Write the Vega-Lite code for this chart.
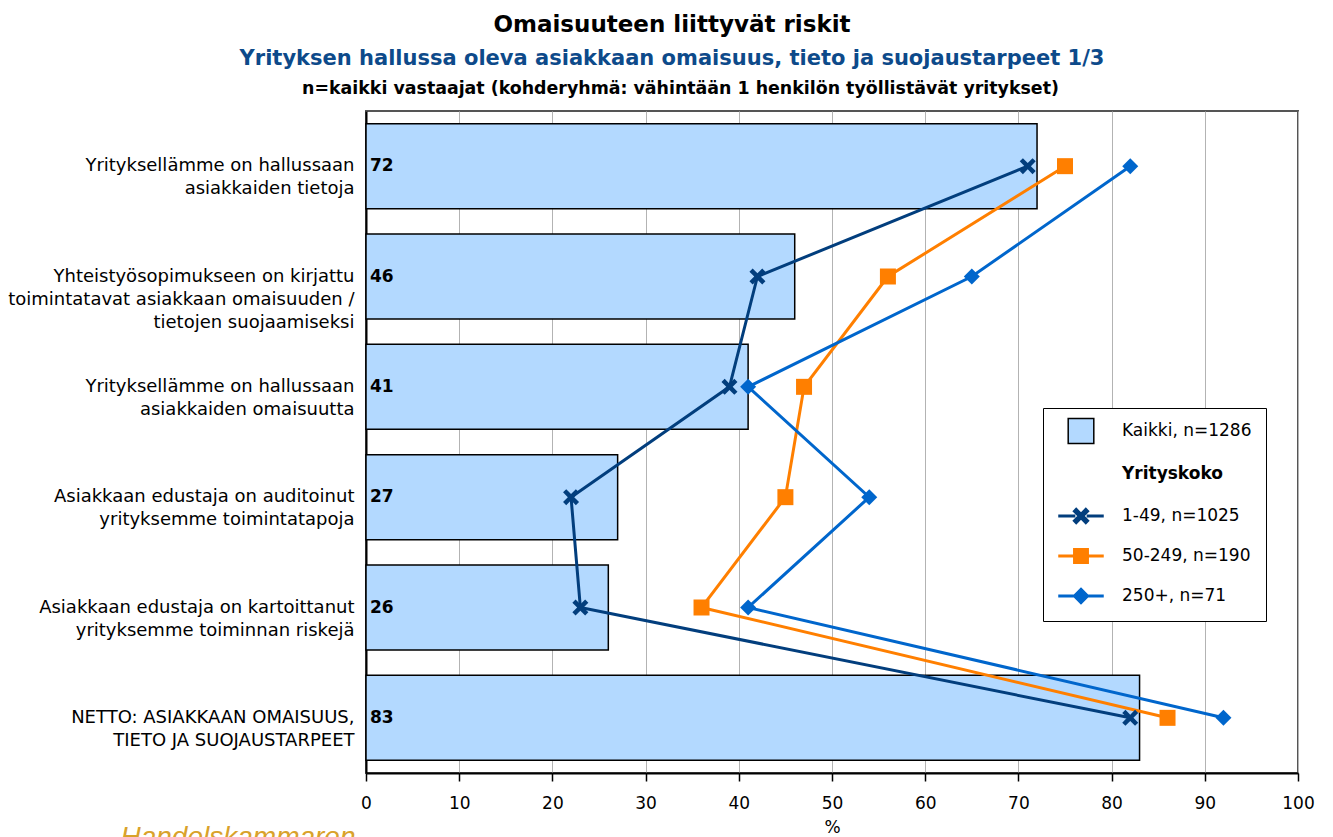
{
  "$schema": "https://vega.github.io/schema/vega-lite/v6.json",
  "width": 932,
  "height": 662,
  "autosize": "none",
  "padding": {"left": 366, "top": 111, "right": 35, "bottom": 64},
  "background": "white",
  "config": {
    "font": "DejaVu Sans",
    "view": {"stroke": "#555555", "strokeWidth": 2},
    "axis": {"labelFont": "DejaVu Sans", "titleFont": "DejaVu Sans"}
  },
  "title": {
    "text": "Omaisuuteen liittyvät riskit",
    "subtitle": "Yrityksen hallussa oleva asiakkaan omaisuus, tieto ja suojaustarpeet 1/3",
    "anchor": "middle",
    "dx": -160,
    "font": "DejaVu Sans",
    "fontSize": 23,
    "fontWeight": "bold",
    "color": "black",
    "subtitleFont": "DejaVu Sans",
    "subtitleFontSize": 21,
    "subtitleFontWeight": "bold",
    "subtitleColor": "#0d4a8a",
    "subtitlePadding": 11,
    "offset": 10
  },
  "data": {
    "values": [
      {"cat": "Yrityksellämme on hallussaan|asiakkaiden tietoja", "series": "Kaikki, n=1286", "value": 72},
      {"cat": "Yhteistyösopimukseen on kirjattu|toimintatavat asiakkaan omaisuuden /|tietojen suojaamiseksi", "series": "Kaikki, n=1286", "value": 46},
      {"cat": "Yrityksellämme on hallussaan|asiakkaiden omaisuutta", "series": "Kaikki, n=1286", "value": 41},
      {"cat": "Asiakkaan edustaja on auditoinut|yrityksemme toimintatapoja", "series": "Kaikki, n=1286", "value": 27},
      {"cat": "Asiakkaan edustaja on kartoittanut|yrityksemme toiminnan riskejä", "series": "Kaikki, n=1286", "value": 26},
      {"cat": "NETTO: ASIAKKAAN OMAISUUS,|TIETO JA SUOJAUSTARPEET", "series": "Kaikki, n=1286", "value": 83},
      {"cat": "Yrityksellämme on hallussaan|asiakkaiden tietoja", "series": "1-49, n=1025", "value": 71},
      {"cat": "Yhteistyösopimukseen on kirjattu|toimintatavat asiakkaan omaisuuden /|tietojen suojaamiseksi", "series": "1-49, n=1025", "value": 42},
      {"cat": "Yrityksellämme on hallussaan|asiakkaiden omaisuutta", "series": "1-49, n=1025", "value": 39},
      {"cat": "Asiakkaan edustaja on auditoinut|yrityksemme toimintatapoja", "series": "1-49, n=1025", "value": 22},
      {"cat": "Asiakkaan edustaja on kartoittanut|yrityksemme toiminnan riskejä", "series": "1-49, n=1025", "value": 23},
      {"cat": "NETTO: ASIAKKAAN OMAISUUS,|TIETO JA SUOJAUSTARPEET", "series": "1-49, n=1025", "value": 82},
      {"cat": "Yrityksellämme on hallussaan|asiakkaiden tietoja", "series": "50-249, n=190", "value": 75},
      {"cat": "Yhteistyösopimukseen on kirjattu|toimintatavat asiakkaan omaisuuden /|tietojen suojaamiseksi", "series": "50-249, n=190", "value": 56},
      {"cat": "Yrityksellämme on hallussaan|asiakkaiden omaisuutta", "series": "50-249, n=190", "value": 47},
      {"cat": "Asiakkaan edustaja on auditoinut|yrityksemme toimintatapoja", "series": "50-249, n=190", "value": 45},
      {"cat": "Asiakkaan edustaja on kartoittanut|yrityksemme toiminnan riskejä", "series": "50-249, n=190", "value": 36},
      {"cat": "NETTO: ASIAKKAAN OMAISUUS,|TIETO JA SUOJAUSTARPEET", "series": "50-249, n=190", "value": 86},
      {"cat": "Yrityksellämme on hallussaan|asiakkaiden tietoja", "series": "250+, n=71", "value": 82},
      {"cat": "Yhteistyösopimukseen on kirjattu|toimintatavat asiakkaan omaisuuden /|tietojen suojaamiseksi", "series": "250+, n=71", "value": 65},
      {"cat": "Yrityksellämme on hallussaan|asiakkaiden omaisuutta", "series": "250+, n=71", "value": 41},
      {"cat": "Asiakkaan edustaja on auditoinut|yrityksemme toimintatapoja", "series": "250+, n=71", "value": 54},
      {"cat": "Asiakkaan edustaja on kartoittanut|yrityksemme toiminnan riskejä", "series": "250+, n=71", "value": 41},
      {"cat": "NETTO: ASIAKKAAN OMAISUUS,|TIETO JA SUOJAUSTARPEET", "series": "250+, n=71", "value": 92}
    ]
  },
  "encoding": {
    "y": {
      "field": "cat",
      "type": "nominal",
      "sort": null,
      "scale": {"paddingInner": 0.23, "paddingOuter": 0.115},
      "axis": {
        "labelExpr": "split(datum.label, '|')",
        "labelFontSize": 18,
        "labelColor": "black",
        "labelLineHeight": 23,
        "labelPadding": 12,
        "labelLimit": 400,
        "ticks": false,
        "domainColor": "black",
        "domainWidth": 2,
        "title": "Handelskammaren",
        "titleAngle": 0,
        "titleAlign": "left",
        "titleBaseline": "top",
        "titleX": -246,
        "titleY": 712,
        "titleFont": "Liberation Sans",
        "titleFontSize": 28,
        "titleFontStyle": "italic",
        "titleFontWeight": "normal",
        "titleColor": "#d9a22b"
      }
    }
  },
  "layer": [
    {
      "transform": [{"filter": "datum.series === 'Kaikki, n=1286'"}],
      "mark": {"type": "bar", "strokeWidth": 1.5},
      "encoding": {
        "x": {
          "field": "value",
          "type": "quantitative",
          "scale": {"domain": [0, 100], "nice": false},
          "axis": {
            "orient": "bottom",
            "values": [0, 10, 20, 30, 40, 50, 60, 70, 80, 90, 100],
            "grid": true,
            "gridColor": "#b3b3b3",
            "gridWidth": 1,
            "domainColor": "black",
            "domainWidth": 2,
            "tickColor": "black",
            "tickSize": 8,
            "tickWidth": 1.5,
            "labelFontSize": 17,
            "labelColor": "black",
            "labelPadding": 14,
            "labelFlush": false,
            "title": "%",
            "titleFontSize": 17,
            "titleFontWeight": "normal",
            "titleColor": "black",
            "titlePadding": 8
          }
        },
        "fill": {
          "field": "series",
          "type": "nominal",
          "scale": {
            "domain": ["Kaikki, n=1286", "Yrityskoko", "1-49, n=1025", "50-249, n=190", "250+, n=71"],
            "range": ["#b3d9ff", "transparent", "#023e7d", "#ff7f00", "#0066cc"]
          },
          "legend": {
            "title": null,
            "orient": "none",
            "legendX": 677,
            "legendY": 297,
            "fillColor": "white",
            "strokeColor": "black",
            "padding": 14,
            "symbolSize": 256,
            "symbolOffset": 15,
            "labelOffset": 32,
            "labelFontSize": 17,
            "labelFont": "DejaVu Sans",
            "labelColor": "black",
            "labelLimit": 300,
            "labelExpr": "datum.label + '\u00a0\u00a0'",
            "rowPadding": 18,
            "symbolOpacity": 1,
            "symbolStrokeWidth": 1.5,
            "symbolType": {"expr": "datum.value === 'Kaikki, n=1286' ? 'M-1.6,-1.55H1.6V1.55H-1.6Z' : datum.value === 'Yrityskoko' ? 'M-0.3,-0.3H0.3V1.25H-0.3Z' : datum.value === '1-49, n=1025' ? 'M-2.75,-0.1H-0.8V0.1H-2.75Z M0.8,-0.1H2.75V0.1H0.8Z M-0.95,-0.6L-0.6,-0.95L0,-0.35L0.6,-0.95L0.95,-0.6L0.35,0L0.95,0.6L0.6,0.95L0,0.35L-0.6,0.95L-0.95,0.6L-0.35,0Z' : datum.value === '50-249, n=190' ? 'M-2.75,-0.1H-0.85V0.1H-2.75Z M0.85,-0.1H2.75V0.1H0.85Z M-0.9,-0.9H0.9V0.9H-0.9Z' : 'M-2.75,-0.1H-0.85V0.1H-2.75Z M0.85,-0.1H2.75V0.1H0.85Z M0,-0.95L0.95,0L0,0.95L-0.95,0Z'"},
            "labelFontWeight": {"expr": "datum.value === 'Yrityskoko' ? 'bold' : 'normal'"}
          }
        },
        "stroke": {
          "field": "series",
          "type": "nominal",
          "scale": {
            "domain": ["Kaikki, n=1286", "Yrityskoko", "1-49, n=1025", "50-249, n=190", "250+, n=71"],
            "range": ["black", "transparent", "#023e7d", "#ff7f00", "#0066cc"]
          },
          "legend": {
            "title": null,
            "orient": "none",
            "legendX": 677,
            "legendY": 297,
            "fillColor": "white",
            "strokeColor": "black",
            "padding": 14,
            "symbolSize": 256,
            "symbolOffset": 15,
            "labelOffset": 32,
            "labelFontSize": 17,
            "labelFont": "DejaVu Sans",
            "labelColor": "black",
            "labelLimit": 300,
            "labelExpr": "datum.label + '\u00a0\u00a0'",
            "rowPadding": 18,
            "symbolOpacity": 1,
            "symbolStrokeWidth": 1.5,
            "symbolType": {"expr": "datum.value === 'Kaikki, n=1286' ? 'M-1.6,-1.55H1.6V1.55H-1.6Z' : datum.value === 'Yrityskoko' ? 'M-0.3,-0.3H0.3V1.25H-0.3Z' : datum.value === '1-49, n=1025' ? 'M-2.75,-0.1H-0.8V0.1H-2.75Z M0.8,-0.1H2.75V0.1H0.8Z M-0.95,-0.6L-0.6,-0.95L0,-0.35L0.6,-0.95L0.95,-0.6L0.35,0L0.95,0.6L0.6,0.95L0,0.35L-0.6,0.95L-0.95,0.6L-0.35,0Z' : datum.value === '50-249, n=190' ? 'M-2.75,-0.1H-0.85V0.1H-2.75Z M0.85,-0.1H2.75V0.1H0.85Z M-0.9,-0.9H0.9V0.9H-0.9Z' : 'M-2.75,-0.1H-0.85V0.1H-2.75Z M0.85,-0.1H2.75V0.1H0.85Z M0,-0.95L0.95,0L0,0.95L-0.95,0Z'"},
            "labelFontWeight": {"expr": "datum.value === 'Yrityskoko' ? 'bold' : 'normal'"}
          }
        }
      }
    },
    {
      "transform": [{"filter": "datum.series === 'Kaikki, n=1286'"}],
      "mark": {"type": "text", "align": "left", "baseline": "middle", "dx": 4, "fontSize": 17, "fontWeight": "bold", "font": "DejaVu Sans", "color": "black"},
      "encoding": {
        "x": {"datum": 0, "type": "quantitative", "axis": null},
        "text": {"field": "value", "type": "quantitative"}
      }
    },
    {
      "transform": [{"filter": "datum.series !== 'Kaikki, n=1286'"}],
      "mark": {"type": "line", "orient": "horizontal", "strokeWidth": 3},
      "encoding": {
        "x": {
          "field": "value",
          "type": "quantitative",
          "axis": {
            "orient": "top",
            "labels": false,
            "ticks": false,
            "domain": false,
            "grid": false,
            "title": "n=kaikki vastaajat (kohderyhmä: vähintään 1 henkilön työllistävät yritykset)",
            "titleFont": "DejaVu Sans",
            "titleFontSize": 17.4,
            "titleFontWeight": "bold",
            "titleColor": "black",
            "titleX": 314,
            "titleAlign": "center",
            "titlePadding": 14
          }
        },
        "stroke": {"field": "series", "type": "nominal"}
      }
    },
    {
      "transform": [{"filter": "datum.series !== 'Kaikki, n=1286'"}],
      "mark": {"type": "point", "filled": true, "opacity": 1, "size": 256, "strokeWidth": 0},
      "encoding": {
        "x": {"field": "value", "type": "quantitative", "axis": null},
        "fill": {"field": "series", "type": "nominal"},
        "shape": {
          "field": "series",
          "type": "nominal",
          "scale": {
            "domain": ["1-49, n=1025", "50-249, n=190", "250+, n=71"],
            "range": ["M-1,-0.6L-0.6,-1L0,-0.4L0.6,-1L1,-0.6L0.4,0L1,0.6L0.6,1L0,0.4L-0.6,1L-1,0.6L-0.4,0Z", "square", "diamond"]
          },
          "legend": null
        }
      }
    }
  ],
  "resolve": {"axis": {"x": "independent"}}
}
